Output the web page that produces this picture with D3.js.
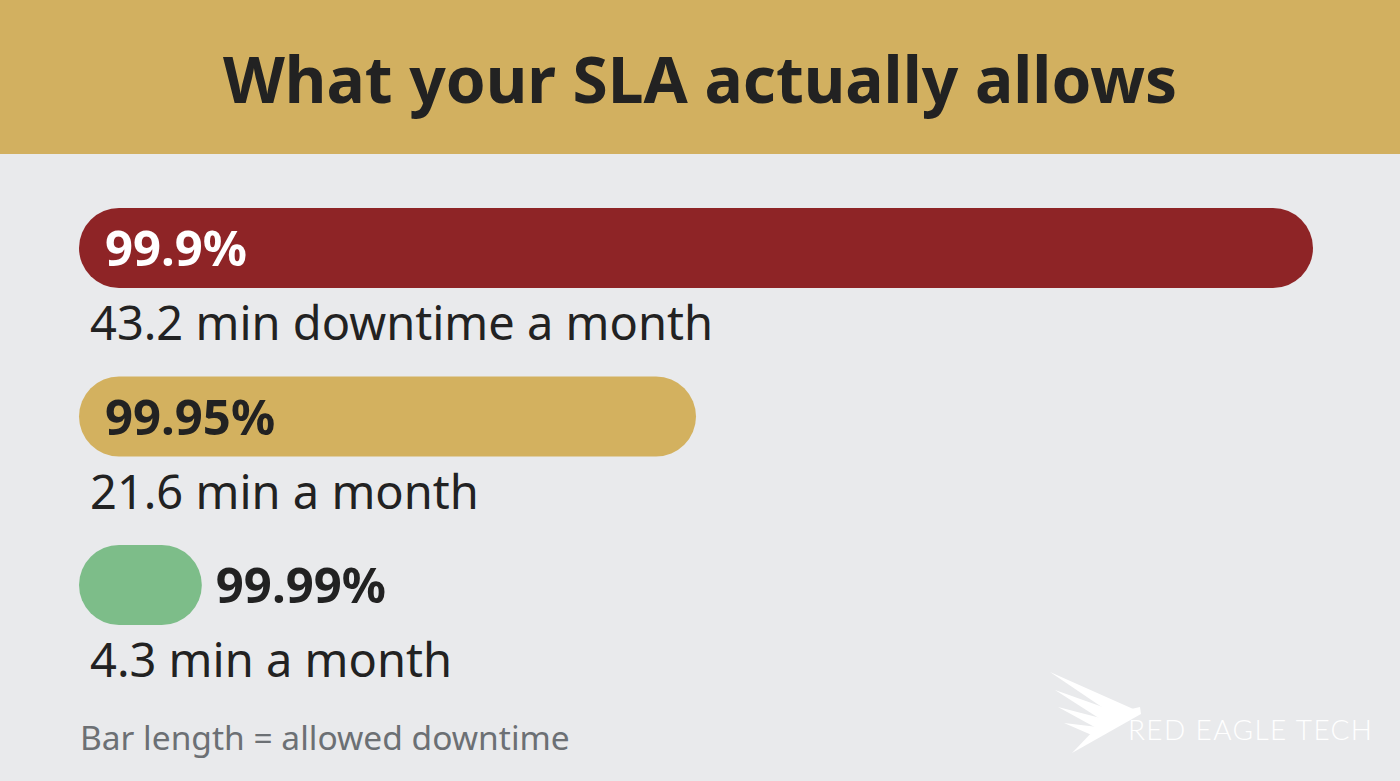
<html>
<head>
<script src="https://d3js.org/d3.v7.min.js"></script>
<style>
    body { margin: 0; background-color: #e9eaec; }
    svg { display: block; }
</style>
</head>
<body>
    <svg width="1400" height="781"></svg>
    <script type="text/javascript">
    // chart data
    var slaLabels = ["99.9%", "99.95%", "99.99%"];
    var downtimeMin = [43.2, 21.6, 4.3];
    var captions = ["43.2 min downtime a month", "21.6 min a month", "4.3 min a month"];
    var barColors = ["#8e2426", "#d3b15f", "#7dbd89"];
    var labelColors = ["#ffffff", "#222222", "#222222"];

    var rows = slaLabels.map(function(s, i) {
        return {sla: s, value: downtimeMin[i], caption: captions[i], fill: barColors[i], labelFill: labelColors[i]};
    });

    var svg = d3.select("svg"),
        width = +svg.attr("width"),
        height = +svg.attr("height"),
        barLeft = 79,
        barH = 80;

    var x = d3.scaleLinear()
        .domain([0, d3.max(downtimeMin)])
        .range([0, 1234]);

    var y = d3.scalePoint()
        .domain(slaLabels)
        .range([208, 545]);

    // background
    svg.append("rect")
        .attr("width", width).attr("height", height)
        .attr("fill", "#e9eaec");

    // header band
    svg.append("rect")
        .attr("width", width).attr("height", 154)
        .attr("fill", "#d2b060");
    svg.append("text")
        .attr("x", width / 2)
        .attr("y", 103)
        .attr("text-anchor", "middle")
        .style("font", "bold 64px 'Noto Sans'")
        .attr("fill", "#222222")
        .text("What your SLA actually allows");

    var g = svg.append("g");

    var row = g.selectAll(".row")
        .data(rows)
        .enter().append("g")
        .attr("class", "row")
        .attr("transform", function(d) { return "translate(" + barLeft + "," + y(d.sla) + ")"; });

    row.append("rect")
        .attr("width", function(d) { return x(d.value); })
        .attr("height", barH)
        .attr("rx", barH / 2)
        .attr("fill", function(d) { return d.fill; });

    // percentage label: inside the bar when it fits, else to the right
    row.append("text")
        .attr("x", function(d) { return x(d.value) > 260 ? 26 : x(d.value) + 14; })
        .attr("y", barH / 2 + 18)
        .style("font", "bold 49px 'Noto Sans'")
        .attr("fill", function(d) { return x(d.value) > 260 ? d.labelFill : "#222222"; })
        .text(function(d) { return d.sla; });

    row.append("text")
        .attr("x", 11)
        .attr("y", 132)
        .style("font", "47px 'Noto Sans'")
        .attr("fill", "#222222")
        .text(function(d) { return d.caption; });

    svg.append("text")
        .attr("x", 80)
        .attr("y", 750)
        .style("font", "33.5px 'Noto Sans'")
        .attr("fill", "#6c7074")
        .text("Bar length = allowed downtime");

    // logo
    var logo = svg.append("g").attr("fill", "#ffffff");
    logo.append("path")
        .attr("d", "M1050,672 L1140,712 L1118,718 Z");
    logo.append("path")
        .attr("d", "M1055,690 L1128,716 L1108,724 Z");
    logo.append("path")
        .attr("d", "M1058,707 L1116,722 L1100,730 Z");
    logo.append("path")
        .attr("d", "M1064,723 L1106,728 L1094,736 Z");
    logo.append("path")
        .attr("d", "M1118,712 L1140,707 L1141,714 L1072,753 L1096,728 Z");
    logo.append("text")
        .attr("x", 1128)
        .attr("y", 740)
        .style("font", "300 28px Lato")
        .attr("textLength", 244)
        .text("RED EAGLE TECH");
    </script>
</body>
</html>
